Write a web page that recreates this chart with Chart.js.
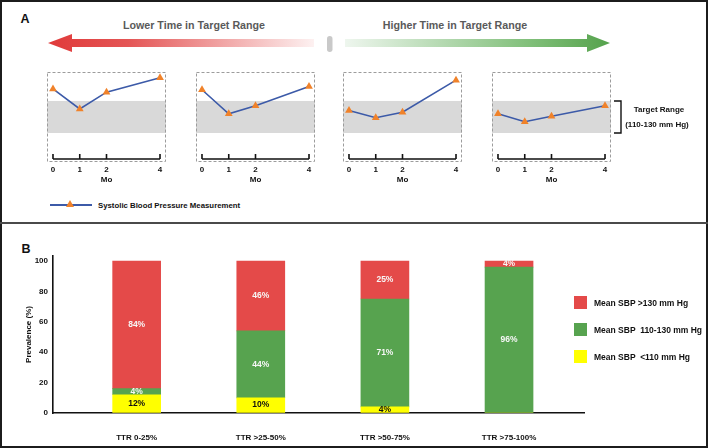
<!DOCTYPE html>
<html>
<head>
<meta charset="utf-8">
<script src="https://cdn.jsdelivr.net/npm/chart.js@4.4.1/dist/chart.umd.min.js"></script>
<style>
  html, body { margin: 0; padding: 0; background: #fff; }
  body { width: 709px; height: 448px; position: relative; overflow: hidden;
         font-family: "Liberation Sans", Arial, sans-serif; font-weight: bold; }
  #frame { position: absolute; left: 0; top: 0; width: 704px; height: 444px; border: 2px solid #1c1c1c; }
  #divider { position: absolute; left: 0; top: 222px; width: 708px; height: 2px; background: #4a4a4a; }
  .t { position: absolute; white-space: pre; transform: translate(-50%, -50%); color: #111; }
  .panel { font-size: 12.5px; }
  .head { font-size: 10.7px; color: #5a5a5a; }
  canvas { position: absolute; }
  #legA .line { position: absolute; left: 50px; top: 204px; width: 42px; height: 2px; background: #3c5aa8; }
  #legA .tri { position: absolute; left: 66px; top: 200px; width: 0; height: 0;
               border-left: 4px solid transparent; border-right: 4px solid transparent; border-bottom: 7px solid #f0822a; }
  #legB .sq { position: absolute; width: 13px; height: 13px; }
  #legB .lbl { position: absolute; font-size: 8.5px; color: #111; white-space: pre; transform: translateY(-50%); }
</style>
</head>
<body>
<div id="frame"></div>
<div id="divider"></div>

<div class="t panel" style="left:25px;top:19px">A</div>
<div class="t panel" style="left:26px;top:249px">B</div>

<div class="t head" style="left:194px;top:25px">Lower Time in Target Range</div>
<div class="t head" style="left:455px;top:25px">Higher Time in Target Range</div>

<svg width="709" height="70" style="position:absolute;left:0;top:0">
  <defs>
    <linearGradient id="gRed" gradientUnits="userSpaceOnUse" x1="48" y1="0" x2="314" y2="0">
      <stop offset="0" stop-color="#e03a3a"/>
      <stop offset="0.3" stop-color="#e45555"/>
      <stop offset="1" stop-color="#fdf1f1"/>
    </linearGradient>
    <linearGradient id="gGreen" gradientUnits="userSpaceOnUse" x1="345" y1="0" x2="610" y2="0">
      <stop offset="0" stop-color="#eef6ee"/>
      <stop offset="0.7" stop-color="#80bf79"/>
      <stop offset="1" stop-color="#55a24c"/>
    </linearGradient>
  </defs>
  <polygon points="48,43 72,34 72,39 314,39 314,47 72,47 72,52" fill="url(#gRed)"/>
  <polygon points="345,39 587,39 587,34 610,43 587,52 587,47 345,47" fill="url(#gGreen)"/>
  <rect x="327" y="36" width="5.5" height="16" rx="2.7" fill="#c9c9c9"/>
</svg>

<canvas id="sbp1" width="149" height="121" style="left:37px;top:65px;width:149px;height:121px"></canvas>
<canvas id="sbp2" width="149" height="121" style="left:186px;top:65px;width:149px;height:121px"></canvas>
<canvas id="sbp3" width="149" height="121" style="left:333px;top:65px;width:149px;height:121px"></canvas>
<canvas id="sbp4" width="149" height="121" style="left:482px;top:65px;width:149px;height:121px"></canvas>

<div class="t" style="left:659px;top:109px;font-size:8px">Target Range</div>
<div class="t" style="left:657px;top:124px;font-size:8px">(110-130 mm Hg)</div>

<div id="legA">
  <div class="line"></div>
  <div class="tri"></div>
  <div style="position:absolute;left:98px;top:205px;transform:translateY(-50%);font-size:7.8px;color:#111">Systolic Blood Pressure Measurement</div>
</div>

<canvas id="barB" width="709" height="215" style="left:0;top:230px;width:709px;height:215px"></canvas>
<div id="legB"></div>

<script>
// Panel A: SBP readings (mm Hg) at months 0, 1, 2, 4
const months = [0, 1, 2, 4];
const sbpPatient1 = [137.5, 125, 135.5, 144.5];
const sbpPatient2 = [137, 122, 127, 139];
const sbpPatient3 = [124, 119.5, 123, 143];
const sbpPatient4 = [122, 117, 120.5, 127];
const targetRange = [110, 130];

// Panel B: prevalence (%) by TTR group
const ttrGroups = ['TTR 0-25%', 'TTR >25-50%', 'TTR >50-75%', 'TTR >75-100%'];
const sbpHigh = [84, 46, 25, 4];
const sbpInRange = [4, 44, 71, 96];
const sbpLow = [12, 10, 4, 0];
const seriesNames = ['Mean SBP >130 mm Hg', 'Mean SBP  110-130 mm Hg', 'Mean SBP  <110 mm Hg'];
const seriesColors = ['#e44a49', '#57a34f', '#ffff00'];
const labelColors = ['#f7f7f7', '#f7f7f7', '#111'];
const prevalenceTicks = [0, 20, 40, 60, 80, 100];

const FONT = '"Liberation Sans", Arial, sans-serif';
Chart.defaults.font.family = FONT;
Chart.defaults.font.weight = 'bold';
Chart.defaults.color = '#111';

// grey target band, dashed frame, time axis with inward ticks, optional bracket
const bandPlugin = {
  id: 'band',
  beforeDatasetsDraw(chart, args, opts) {
    const { ctx, chartArea: a, scales: { x, y } } = chart;
    const yTop = y.getPixelForValue(targetRange[1]);
    const yBot = y.getPixelForValue(targetRange[0]);
    ctx.save();
    ctx.fillStyle = '#d9d9d9';
    ctx.fillRect(a.left, yTop, a.right - a.left, yBot - yTop);

    ctx.strokeStyle = '#9c9c9c';
    ctx.lineWidth = 1;
    ctx.setLineDash([3, 2]);
    ctx.strokeRect(a.left + 0.5, a.top + 0.5, a.right - a.left - 1, a.bottom - a.top + 2);
    ctx.setLineDash([]);

    const x0 = x.getPixelForValue(months[0]);
    const x1 = x.getPixelForValue(months[months.length - 1]);
    ctx.strokeStyle = '#111';
    ctx.lineWidth = 1.6;
    ctx.beginPath();
    ctx.moveTo(x0, a.bottom);
    ctx.lineTo(x1, a.bottom);
    months.forEach(m => {
      const px = x.getPixelForValue(m);
      ctx.moveTo(px, a.bottom);
      ctx.lineTo(px, a.bottom - 5);
    });
    ctx.stroke();

    if (opts.bracket) {
      const bx = a.right + 10;
      ctx.lineWidth = 1.4;
      ctx.beginPath();
      ctx.moveTo(a.right + 3, yTop);
      ctx.lineTo(bx, yTop);
      ctx.lineTo(bx, yBot);
      ctx.lineTo(a.right + 3, yBot);
      ctx.stroke();
    }
    ctx.restore();
  }
};

function sbpChart(id, values, bracket) {
  new Chart(document.getElementById(id), {
    type: 'line',
    data: {
      datasets: [{
        data: months.map((m, i) => ({ x: m, y: values[i] })),
        borderColor: '#3c5aa8',
        borderWidth: 1.6,
        tension: 0,
        pointStyle: 'triangle',
        pointRadius: 4.5,
        pointBackgroundColor: '#f0822a',
        pointBorderColor: '#f0822a',
        pointBorderWidth: 0
      }]
    },
    options: {
      responsive: false,
      animation: false,
      events: [],
      layout: { padding: { left: 10, right: 20, top: 7, bottom: 0 } },
      plugins: { legend: { display: false }, tooltip: { enabled: false }, band: { bracket } },
      scales: {
        x: {
          type: 'linear', min: -0.224, max: 4.224, offset: false,
          afterBuildTicks: s => { s.ticks = months.map(v => ({ value: v })); },
          afterFit: s => { s.height = 27; },
          grid: { display: false, drawTicks: false },
          border: { display: false },
          ticks: { font: { size: 8, weight: 'bold' }, color: '#111', padding: 6, maxRotation: 0, autoSkip: false },
          title: { display: true, text: 'Mo', font: { size: 8, weight: 'bold' }, color: '#111', padding: { top: 0, bottom: 1 } }
        },
        y: { display: false, min: 93.75, max: 148.1 }
      }
    },
    plugins: [bandPlugin]
  });
}

sbpChart('sbp1', sbpPatient1, false);
sbpChart('sbp2', sbpPatient2, false);
sbpChart('sbp3', sbpPatient3, false);
sbpChart('sbp4', sbpPatient4, true);

// percentage labels in the middle of each segment
const segLabels = {
  id: 'segLabels',
  afterDatasetsDraw(chart) {
    const ctx = chart.ctx;
    ctx.save();
    ctx.font = 'bold 8.5px ' + FONT;
    ctx.textAlign = 'center';
    ctx.textBaseline = 'middle';
    chart.data.datasets.forEach((ds, di) => {
      chart.getDatasetMeta(di).data.forEach((bar, i) => {
        const v = ds.data[i].y;
        if (!v) return;
        ctx.fillStyle = ds.labelColor;
        ctx.fillText(v + '%', bar.x, (bar.y + bar.base) / 2);
      });
    });
    ctx.restore();
  }
};

const stackOrder = [
  { name: seriesNames[2], values: sbpLow, color: seriesColors[2], label: labelColors[2] },
  { name: seriesNames[1], values: sbpInRange, color: seriesColors[1], label: labelColors[1] },
  { name: seriesNames[0], values: sbpHigh, color: seriesColors[0], label: labelColors[0] }
];

new Chart(document.getElementById('barB'), {
  type: 'bar',
  data: {
    datasets: stackOrder.map(s => ({
      label: s.name,
      data: s.values.map((v, i) => ({ x: i, y: v })),
      backgroundColor: s.color,
      labelColor: s.label,
      barThickness: 48
    }))
  },
  options: {
    responsive: false,
    animation: false,
    events: [],
    layout: { padding: { left: 20, right: 125, top: 26, bottom: 0 } },
    plugins: { legend: { display: false }, tooltip: { enabled: false } },
    scales: {
      x: {
        type: 'linear', stacked: true, min: -0.674, max: 3.604, offset: false,
        afterBuildTicks: s => { s.ticks = ttrGroups.map((g, i) => ({ value: i })); },
        afterFit: s => { s.height = 32; },
        grid: { display: true, drawOnChartArea: false, drawTicks: false, offset: false },
        border: { color: '#111', width: 1.6 },
        ticks: { callback: v => ttrGroups[v], padding: 20, font: { size: 8, weight: 'bold' }, color: '#111', maxRotation: 0, autoSkip: false }
      },
      y: {
        stacked: true, min: 0, max: 103.3,
        afterBuildTicks: s => { s.ticks = prevalenceTicks.map(v => ({ value: v })); },
        afterFit: s => { s.width = 33; },
        grid: { display: true, drawOnChartArea: false, drawTicks: false },
        border: { color: '#111', width: 1.6 },
        ticks: { padding: 5, font: { size: 8, weight: 'bold' }, color: '#111' },
        title: { display: true, text: 'Prevalence (%)', font: { size: 8, weight: 'bold' }, color: '#111', padding: { top: 4, bottom: 0 } }
      }
    }
  },
  plugins: [segLabels]
});

// legend for panel B
const legB = document.getElementById('legB');
seriesNames.forEach((name, i) => {
  const top = 296 + i * 27;
  const sq = document.createElement('div');
  sq.className = 'sq';
  sq.style.left = '574px';
  sq.style.top = top + 'px';
  sq.style.background = seriesColors[i];
  legB.appendChild(sq);
  const lbl = document.createElement('div');
  lbl.className = 'lbl';
  lbl.style.left = '594px';
  lbl.style.top = (top + 7) + 'px';
  lbl.textContent = name;
  legB.appendChild(lbl);
});
</script>
</body>
</html>
